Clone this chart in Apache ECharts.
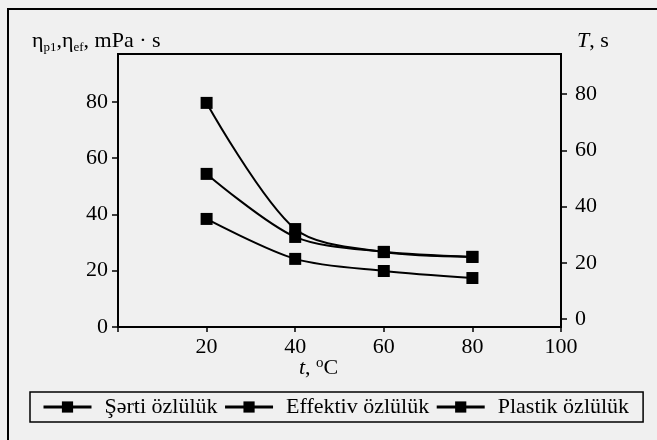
<!DOCTYPE html>
<html><head><meta charset="utf-8">
<script src="https://cdn.jsdelivr.net/npm/echarts@6/dist/echarts.min.js"></script>
<style>html,body{margin:0;padding:0;background:#f0f0f0;}#c{width:657px;height:440px;}</style>
</head><body><div id="c"></div>
<script>
const temps = [20, 40, 60, 80];
const sertiT = [76.9, 32.0, 23.8, 22.1];        // T, s (right axis)
const effektiv = [54.4, 32.0, 26.7, 24.9];      // mPa·s (left axis)
const plastik = [38.4, 24.2, 19.9, 17.4];       // mPa·s (left axis)
const seriesNames = ['Şərti özlülük', 'Effektiv özlülük', 'Plastik özlülük'];
const xTicks = [0, 20, 40, 60, 80, 100];
const yTicks = [0, 20, 40, 60, 80];

const font = '"Liberation Serif", "Times New Roman", serif';
const chart = echarts.init(document.getElementById('c'), null, {renderer: 'canvas'});

function pairs(ys) { return temps.map((t, i) => [t, ys[i]]); }

const lineCommon = {
  type: 'line', smooth: 0.3, symbol: 'rect', symbolSize: 12,
  lineStyle: {color: '#000', width: 2}, itemStyle: {color: '#000'}, z: 3
};

chart.setOption({
  backgroundColor: '#f0f0f0',
  animation: false,
  grid: {left: 118, right: 96, top: 54, bottom: 113, show: true, borderColor: '#000', borderWidth: 2, backgroundColor: 'transparent'},
  xAxis: {
    type: 'value', min: 0, max: 100, interval: 20,
    axisLine: {lineStyle: {color: '#000', width: 2}},
    axisTick: {show: true, length: 5, lineStyle: {color: '#000', width: 1.5}},
    axisLabel: {color: '#000', fontFamily: font, fontSize: 22, margin: 9, formatter: v => v === 0 ? '' : String(v)},
    splitLine: {show: false}
  },
  yAxis: [
    {
      type: 'value', min: 0, max: 97, position: 'left',
      axisLine: {show: true, lineStyle: {color: '#000', width: 2}},
      axisTick: {show: true, length: 6, customValues: yTicks, lineStyle: {color: '#000', width: 1.5}},
      axisLabel: {color: '#000', fontFamily: font, fontSize: 22, margin: 10, customValues: yTicks},
      splitLine: {show: false}
    },
    {
      type: 'value', min: -2.85, max: 94.3, position: 'right',
      axisLine: {show: true, lineStyle: {color: '#000', width: 2}},
      axisTick: {show: true, length: 6, customValues: yTicks, lineStyle: {color: '#000', width: 1.5}},
      axisLabel: {color: '#000', fontFamily: font, fontSize: 22, margin: 14, customValues: yTicks},
      splitLine: {show: false}
    }
  ],
  legend: {
    left: 30, top: 392,
    padding: [4, 14, 4, 12],
    itemGap: 6, itemWidth: 48, itemHeight: 14,
    lineStyle: {width: 3, color: '#000'},
    itemStyle: {color: '#000'},
    borderColor: '#000', borderWidth: 1.5,
    textStyle: {color: '#000', fontFamily: font, fontSize: 22, padding: [0, 0, 0, 8]},
    data: seriesNames
  },
  series: [
    Object.assign({}, lineCommon, {name: seriesNames[0], yAxisIndex: 1, data: pairs(sertiT)}),
    Object.assign({}, lineCommon, {name: seriesNames[1], yAxisIndex: 0, data: pairs(effektiv)}),
    Object.assign({}, lineCommon, {name: seriesNames[2], yAxisIndex: 0, data: pairs(plastik)})
  ],
  graphic: [
    {type: 'rect', shape: {x: 8, y: 9, width: 680, height: 460}, style: {fill: 'none', stroke: '#000', lineWidth: 2}, silent: true},
    {type: 'text', left: 32, top: 30, style: {
      text: '{e|η}{s|p1}{e|,η}{s|ef}{e|, mPa · s}',
      rich: {
        e: {fontFamily: font, fontSize: 22, fill: '#000', verticalAlign: 'bottom'},
        s: {fontFamily: font, fontSize: 13, fill: '#000', verticalAlign: 'bottom', padding: [0, 0, -2, 0]}
      }
    }},
    {type: 'text', left: 577, top: 30, style: {
      text: '{i|T}{e|, s}',
      rich: {
        i: {fontFamily: font, fontSize: 22, fontStyle: 'italic', fill: '#000'},
        e: {fontFamily: font, fontSize: 22, fill: '#000'}
      }
    }},
    {type: 'text', left: 299, top: 356, style: {
      text: '{i|t}{e|, }{o|o}{e|C}',
      rich: {
        i: {fontFamily: font, fontSize: 22, fontStyle: 'italic', fill: '#000', verticalAlign: 'bottom'},
        e: {fontFamily: font, fontSize: 22, fill: '#000', verticalAlign: 'bottom'},
        o: {fontFamily: font, fontSize: 15, fill: '#000', verticalAlign: 'top', padding: [0, 0, 8, 0]}
      }
    }}
  ]
});
</script>
</body></html>
